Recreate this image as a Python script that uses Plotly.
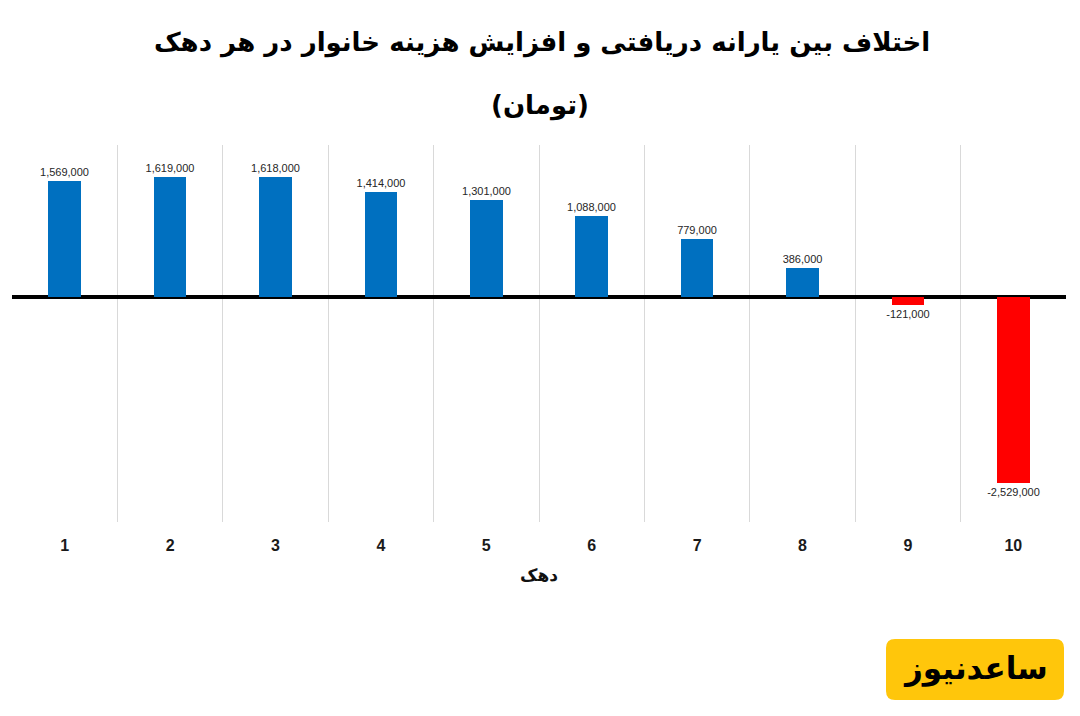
import plotly.graph_objects as go

deciles = [1, 2, 3, 4, 5, 6, 7, 8, 9, 10]
tick_labels = ["1", "2", "3", "4", "5", "6", "7", "8", "9", "10"]
values = [1569000, 1619000, 1618000, 1414000, 1301000, 1088000, 779000, 386000, -121000, -2529000]

title_line1 = "اختلاف بین یارانه دریافتی و افزایش هزینه خانوار در هر دهک"
title_line2 = "(تومان)"
x_title = "دهک"
logo_text = "ساعدنیوز"

BLUE = "#0070C0"
RED = "#FF0000"
colors = [BLUE if v >= 0 else RED for v in values]
labels = [f"{v:,}" for v in values]

W, H = 1080, 716
L, R, T, B = 12, 14, 145, 194
pw, ph = W - L - R, H - T - B

def px(x):
    return (x - L) / pw

def py(y):
    return (H - B - y) / ph

fig = go.Figure()
fig.add_trace(go.Bar(
    x=deciles, y=values, marker=dict(color=colors, line=dict(width=0)),
    width=0.31, text=labels, textposition="outside", constraintext="none",
    textfont=dict(family="Liberation Sans, Arial", size=11, color="#262626"),
    cliponaxis=False,
))

fig.update_layout(
    width=W, height=H,
    margin=dict(l=L, r=R, t=T, b=B),
    paper_bgcolor="white", plot_bgcolor="white",
    showlegend=False,
    bargap=0,
    xaxis=dict(
        range=[0.5, 10.5], tickmode="array", tickvals=deciles, ticktext=tick_labels,
        showgrid=False, zeroline=False, showline=False, ticks="",
        tickfont=dict(family="Liberation Sans, Arial", size=16, color="#1a1a1a", weight="bold"),
        ticklabelstandoff=12,
        minor=dict(tickmode="linear", tick0=0.5, dtick=1, showgrid=True,
                   gridcolor="#d9d9d9", gridwidth=1, ticks=""),
        title=dict(text=x_title, standoff=16,
                   font=dict(family="DejaVu Sans", size=17, color="#111", weight="bold")),
    ),
    yaxis=dict(
        range=[-3050000, 2050000], showgrid=False, showticklabels=False,
        zeroline=True, zerolinecolor="black", zerolinewidth=4, ticks="",
    ),
)

fig.add_annotation(text=title_line1, xref="paper", yref="paper", x=px(542), y=py(42),
                   showarrow=False, xanchor="center", yanchor="middle",
                   font=dict(family="DejaVu Sans", size=26, color="black", weight="bold"))
fig.add_annotation(text=title_line2, xref="paper", yref="paper", x=px(540), y=py(105),
                   showarrow=False, xanchor="center", yanchor="middle",
                   font=dict(family="DejaVu Sans", size=26, color="black", weight="bold"))

# logo box (rounded)
x0, x1, y0, y1 = px(886), px(1064), py(700), py(639)
rx, ry = 9 / pw, 9 / ph
path = (f"M {x0+rx},{y0} L {x1-rx},{y0} Q {x1},{y0} {x1},{y0+ry} L {x1},{y1-ry} "
        f"Q {x1},{y1} {x1-rx},{y1} L {x0+rx},{y1} Q {x0},{y1} {x0},{y1-ry} "
        f"L {x0},{y0+ry} Q {x0},{y0} {x0+rx},{y0} Z")
fig.add_shape(type="path", path=path, xref="paper", yref="paper",
              fillcolor="#FFC60B", line=dict(width=0), layer="below")
fig.add_annotation(text=logo_text, xref="paper", yref="paper", x=px(975), y=py(668),
                   showarrow=False, xanchor="center", yanchor="middle",
                   font=dict(family="DejaVu Sans", size=31, color="black", weight="bold"))

fig.write_html("out.html", config={"displayModeBar": False},
               post_script="document.body.style.margin='0';document.body.style.padding='0';")
